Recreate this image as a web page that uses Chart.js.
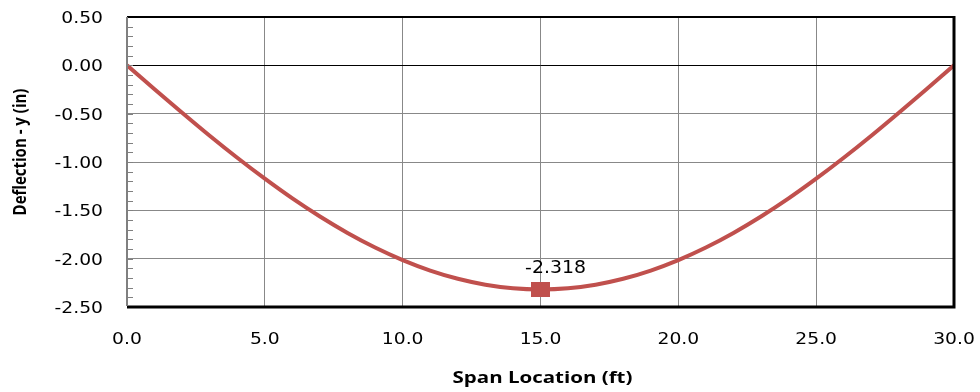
<!DOCTYPE html>
<html>
<head>
<meta charset="utf-8">
<script src="https://cdn.jsdelivr.net/npm/chart.js@4"></script>
<style>
  html, body { margin: 0; padding: 0; background: #fff; }
  #wrap { width: 980px; height: 392px; }
</style>
</head>
<body>
<div id="wrap"><canvas id="deflChart"></canvas></div>
<script>
// span positions (ft) and deflection (in)
const spanFt = [0, 1, 2, 3, 4, 5, 6, 7, 8, 9, 10, 11, 12, 13, 14, 15,
  16, 17, 18, 19, 20, 21, 22, 23, 24, 25, 26, 27, 28, 29, 30];
const deflection = [0, -0.247, -0.490, -0.728, -0.956, -1.173, -1.377, -1.564, -1.734, -1.885, -2.015,
  -2.123, -2.208, -2.269, -2.306, -2.318, -2.306, -2.269, -2.208, -2.123, -2.015,
  -1.885, -1.734, -1.564, -1.377, -1.173, -0.956, -0.728, -0.490, -0.247, 0];
// max deflection point
const maxX = [15];
const maxY = [-2.318];
const maxLabels = ['-2.318'];

const xTicks = [0, 5, 10, 15, 20, 25, 30];
const yMin = -2.5, yMax = 0.5;

const red = '#C0504D';

// the square marker is a bit wider than tall in the original
const marker = document.createElement('canvas');
marker.width = 19;
marker.height = 15;
const mctx = marker.getContext('2d');
mctx.fillStyle = red;
mctx.fillRect(0, 0, 19, 15);

// text in the original is stretched sideways
function stretchText(ctx, text, x, y, sx, sy) {
  ctx.save();
  ctx.translate(x, y);
  ctx.scale(sx, sy);
  ctx.fillText(text, 0, 0);
  ctx.restore();
}

const extras = {
  id: 'extras',
  afterDatasetsDraw(chart) {
    const ctx = chart.ctx;
    const ys = chart.scales.y;
    const xs = chart.scales.x;
    const area = chart.chartArea;
    ctx.save();

    // minor ticks inside left axis
    ctx.strokeStyle = '#808080';
    ctx.lineWidth = 1;
    for (let v = yMin; v <= yMax + 0.001; v += 0.1) {
      const py = Math.round(ys.getPixelForValue(v)) + 0.5;
      ctx.beginPath();
      ctx.moveTo(area.left, py);
      ctx.lineTo(area.left + 6, py);
      ctx.stroke();
    }

    // frame: top/right/bottom black, left gray
    ctx.strokeStyle = '#000';
    ctx.lineWidth = 2;
    ctx.beginPath();
    ctx.moveTo(area.left, area.top);
    ctx.lineTo(area.right, area.top);
    ctx.stroke();
    ctx.lineWidth = 3;
    ctx.beginPath();
    ctx.moveTo(area.right, area.top - 1);
    ctx.lineTo(area.right, area.bottom);
    ctx.moveTo(area.left, area.bottom);
    ctx.lineTo(area.right + 1.5, area.bottom);
    ctx.stroke();
    ctx.strokeStyle = '#808080';
    ctx.lineWidth = 2;
    ctx.beginPath();
    ctx.moveTo(area.left, area.top);
    ctx.lineTo(area.left, area.bottom - 1);
    ctx.stroke();

    ctx.fillStyle = '#000';

    // y tick labels
    ctx.font = '16px "DejaVu Sans"';
    ctx.textAlign = 'right';
    ctx.textBaseline = 'middle';
    ys.ticks.forEach(t => {
      stretchText(ctx, t.value.toFixed(2), area.left - 24, ys.getPixelForValue(t.value) + 2, 1.17, 1);
    });

    // x tick labels
    ctx.textAlign = 'center';
    xs.ticks.forEach(t => {
      stretchText(ctx, t.value.toFixed(1), xs.getPixelForValue(t.value), area.bottom + 33, 1.17, 1);
    });

    // axis titles
    ctx.font = 'bold 16px "Open Sans"';
    stretchText(ctx, 'Span Location (ft)', (area.left + area.right) / 2 + 2, 378, 1.28, 1);
    ctx.save();
    ctx.translate(21, 152);
    ctx.rotate(-Math.PI / 2);
    ctx.font = 'bold 15px "Open Sans"';
    stretchText(ctx, 'Deflection - y (in)', 0, 0, 1, 1.15);
    ctx.restore();

    // data label
    ctx.font = '17px "DejaVu Sans"';
    ctx.textBaseline = 'alphabetic';
    for (let i = 0; i < maxX.length; i++) {
      stretchText(ctx, maxLabels[i], xs.getPixelForValue(maxX[i]) + 15, ys.getPixelForValue(maxY[i]) - 16, 1.11, 1);
    }
    ctx.restore();
  }
};

new Chart(document.getElementById('deflChart'), {
  type: 'scatter',
  data: {
    datasets: [
      {
        data: maxX.map((x, i) => ({ x: x, y: maxY[i] })),
        showLine: false,
        pointStyle: marker,
        pointRadius: 8,
        backgroundColor: red,
        borderColor: red
      },
      {
        data: spanFt.map((x, i) => ({ x: x, y: deflection[i] })),
        showLine: true,
        borderColor: red,
        borderWidth: 4,
        pointRadius: 0,
        tension: 0.3
      }
    ]
  },
  options: {
    responsive: true,
    maintainAspectRatio: false,
    animation: false,
    layout: { padding: { top: 17, right: 26, left: 0, bottom: 0 } },
    plugins: { legend: { display: false }, tooltip: { enabled: false } },
    scales: {
      x: {
        type: 'linear',
        min: 0, max: 30,
        afterFit(s) { s.height = 85; },
        afterBuildTicks(s) { s.ticks = xTicks.map(v => ({ value: v })); },
        border: { display: false },
        grid: { color: '#888888', lineWidth: 1, drawTicks: false },
        ticks: { display: false },
        title: { display: false }
      },
      y: {
        min: yMin, max: yMax,
        afterFit(s) { s.width = 127; },
        border: { display: false },
        grid: {
          color: c => Math.abs(c.tick.value) < 1e-9 ? '#000' : '#888888',
          lineWidth: 1,
          drawTicks: false
        },
        ticks: { display: false, stepSize: 0.5 },
        title: { display: false }
      }
    }
  },
  plugins: [extras]
});
</script>
</body>
</html>
